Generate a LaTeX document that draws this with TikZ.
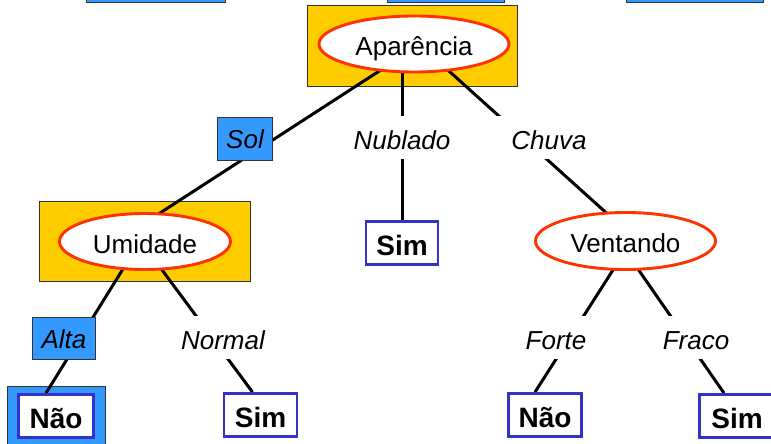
\documentclass[tikz,border=0pt]{standalone}
\usepackage{fontspec}
\setmainfont{Liberation Sans}
\usetikzlibrary{shapes.geometric}
\definecolor{boxyellow}{HTML}{FFCC00}
\definecolor{tagblue}{HTML}{3399FF}
\definecolor{ringred}{HTML}{FF3300}
\definecolor{leafblue}{HTML}{3333CC}
\pgfdeclarelayer{frames}
\pgfdeclarelayer{wires}
\pgfsetlayers{frames,wires,main}

\begin{document}
\begin{tikzpicture}[x=1pt,y=-1pt,
  frame/.style={draw=black!80,line width=0.8pt,fill=boxyellow,inner sep=0pt},
  attr/.style={ellipse,draw=ringred,line width=2.9pt,fill=white,inner sep=0pt,
    text height=23pt,text depth=0pt,font=\fontsize{26}{30}\selectfont},
  leaf/.style={draw=leafblue,line width=2.8pt,fill=white,inner sep=0pt,
    text height=24pt,text depth=0pt,
    minimum width=72pt,minimum height=43pt,font=\fontsize{28}{32}\selectfont\bfseries},
  branch/.style={fill=white,inner sep=0pt,minimum height=43pt,
    text height=23pt,text depth=0pt,font=\fontsize{26}{30}\selectfont\itshape},
  tag/.style={draw=black!80,line width=0.8pt,fill=tagblue,inner sep=0pt,
    text height=19pt,text depth=0pt,font=\fontsize{26}{30}\selectfont\itshape},
  wire/.style={line width=3pt,black},
  topbar/.style={draw=black!80,line width=0.8pt,fill=tagblue}]

\useasboundingbox (0,0) rectangle (771,444);

% bars along the upper edge
\draw[topbar] (86,-20) rectangle (225,2.5);
\draw[topbar] (387,-20) rectangle (504,2.5);
\draw[topbar] (626,-20) rectangle (763,2.5);

% highlighted frames behind the decision nodes
\begin{pgfonlayer}{frames}
  \node[frame,minimum width=210pt,minimum height=81pt] (apbox) at (412,45.5) {};
  \node[frame,minimum width=211pt,minimum height=80pt] (umbox) at (144.5,241) {};
  \node[frame,fill=tagblue,minimum width=98pt,minimum height=66pt] (naobox) at (56,419) {};
\end{pgfonlayer}

% attribute nodes
\node[attr,minimum width=190pt,minimum height=56pt] (ap) at (414,44) {Aparência};
\node[attr,minimum width=171pt,minimum height=56pt] (umid) at (145,241.5) {Umidade};
\node[attr,minimum width=180pt,minimum height=57pt] (vent) at (625.5,241) {Ventando};

% leaves
\node[leaf] (simA) at (402,243) {Sim};
\node[leaf,minimum width=75pt] (nao1) at (56,416) {Não};
\node[leaf,minimum width=73pt] (simB) at (260.5,415) {Sim};
\node[leaf,minimum width=73pt] (nao2) at (545,415) {Não};
\node[leaf,minimum width=75pt] (simC) at (737,416) {Sim};

% branch values
\node[tag,minimum width=55pt,minimum height=43pt] (sol) at (245,139) {Sol};
\node[tag,minimum width=63pt,minimum height=42pt] (alta) at (64,338.5) {Alta};
\node[branch,minimum width=106pt] (nub) at (402,137.5) {Nublado};
\node[branch,minimum width=108pt] (chuva) at (549,137.5) {Chuva};
\node[branch,minimum width=96pt] (normal) at (223,337.5) {Normal};
\node[branch,minimum width=76pt] (forte) at (556,337.5) {Forte};
\node[branch,minimum width=76pt] (fraco) at (696,337.5) {Fraco};

% connectors
\begin{pgfonlayer}{wires}
  \draw[wire] ([xshift=7]ap.center) -- ([xshift=-29]umid.center);
  \draw[wire] (simA.north) -- (simA.north |- ap.center);
  \draw[wire] ([xshift=5]ap.center) -- ([xshift=12]vent.center);
  \draw[wire] ([xshift=-5]umid.center) -- ([xshift=-10]nao1.north);
  \draw[wire] ([xshift=-4]umid.center) -- ([xshift=-8]simB.north);
  \draw[wire] ([xshift=6]vent.center) -- ([xshift=-10]nao2.north);
  \draw[wire] ([xshift=-7]vent.center) -- ([xshift=-13]simC.north);
\end{pgfonlayer}
\end{tikzpicture}
\end{document}
